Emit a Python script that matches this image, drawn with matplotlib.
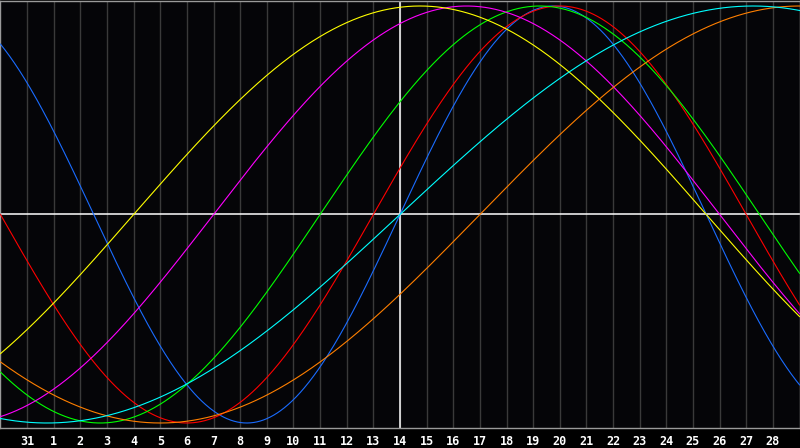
import numpy as np
import matplotlib
matplotlib.use('Agg')
import matplotlib.pyplot as plt

# day labels along the bottom (index 1..29 on the axis)
day_labels = ['31'] + [str(d) for d in range(1, 29)]
today_index = 15   # the "14" column, white marker line

# biorhythm cycles: period in days, index where each one crosses zero going up
cycle_names = ['physical', 'emotional', 'intellectual', 'intuitive',
               'aesthetic', 'awareness', 'spiritual']
periods = [23, 28, 33, 38, 43, 48, 53]
zero_up = [15, 14, 12, 8, 5, 18, 15]
colors = ['#1a6cff', '#ff0000', '#00ff00', '#ff00ff',
          '#ffff00', '#ff7f00', '#00ffff']

fig = plt.figure(figsize=(8, 4.48), dpi=100)
fig.patch.set_facecolor('black')
ax = fig.add_axes([0.0006, 20 / 448, 0.9988, 427 / 448])
ax.set_facecolor('#050508')

t = np.linspace(0, 30, 1200)
for name, p, z, c in zip(cycle_names, periods, zero_up, colors):
    ax.plot(t, np.sin(2 * np.pi * (t - z) / p), color=c, lw=0.8, label=name, zorder=3)

# day grid
for i in range(1, 30):
    ax.axvline(i, color='#3a3a3a', lw=1, zorder=1)
ax.axhline(0, color='white', lw=1.1, zorder=2)
ax.axvline(today_index, color='white', lw=1.1, zorder=2)

ax.set_xlim(0, 30)
ax.set_ylim(-1.024, 1.024)
ax.set_yticks([])
ax.set_xticks(range(1, 30))
ax.set_xticklabels(day_labels, color='white', fontsize=8.5,
                   fontweight='bold', family='DejaVu Sans Mono')
ax.tick_params(axis='x', length=0, pad=5)
for s in ax.spines.values():
    s.set_color('#9a9a9a')
    s.set_linewidth(1)

plt.savefig('out.png', dpi=100, facecolor='black')
